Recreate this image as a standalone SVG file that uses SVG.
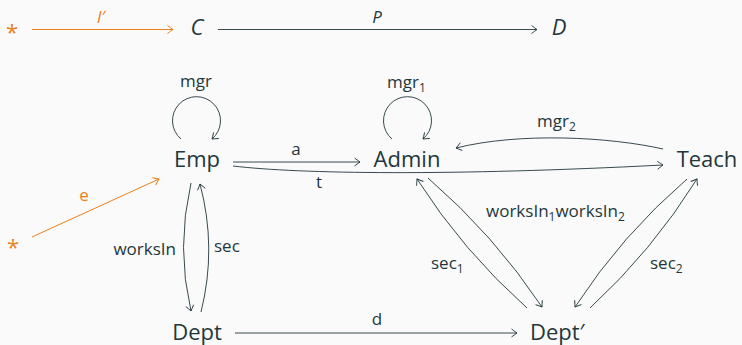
<svg xmlns="http://www.w3.org/2000/svg" width="742" height="345" viewBox="0 0 742 345">
  <style>
    text { font-family: "Open Sans", "DejaVu Sans", sans-serif; fill: #23373b; }
    .node { font-size: 22px; }
    .math { font-style: italic; }
    .lbl { font-size: 17px; }
    .sub { font-size: 12px; }
    .alert { fill: #eb811b; }
    .edge { fill: none; stroke: #23373b; stroke-width: 0.9; marker-end: url(#to); }
    .edge-alert { fill: none; stroke: #eb811b; stroke-width: 1; marker-end: url(#to-alert); }
  </style>
  <defs>
    <marker id="to" viewBox="-7 -5 8 10" refX="0" refY="0" markerWidth="8" markerHeight="10" markerUnits="userSpaceOnUse" orient="auto">
      <path d="M-5.5,-4 Q-1.5,-1 0,0 Q-1.5,1 -5.5,4" fill="none" stroke="#23373b" stroke-width="0.9"/>
    </marker>
    <marker id="to-alert" viewBox="-7 -5 8 10" refX="0" refY="0" markerWidth="8" markerHeight="10" markerUnits="userSpaceOnUse" orient="auto">
      <path d="M-5.5,-4 Q-1.5,-1 0,0 Q-1.5,1 -5.5,4" fill="none" stroke="#eb811b" stroke-width="1"/>
    </marker>
  </defs>

  <rect width="742" height="345" fill="#fafafa"/>

  <!-- top row: * -> C -> D -->
  <g id="star-top"><text class="node alert" x="12" y="40" text-anchor="middle">*</text></g>
  <g id="C"><text class="node math" x="197" y="35" text-anchor="middle">C</text></g>
  <g id="D"><text class="node math" x="559" y="35" text-anchor="middle">D</text></g>

  <!-- category nodes -->
  <g id="Emp"><text class="node" x="197" y="167" text-anchor="middle">Emp</text></g>
  <g id="Admin"><text class="node" x="407" y="167" text-anchor="middle">Admin</text></g>
  <g id="Teach"><text class="node" x="707" y="167" text-anchor="middle">Teach</text></g>
  <g id="Dept"><text class="node" x="197" y="340" text-anchor="middle">Dept</text></g>
  <g id="DeptPrime"><text class="node" x="530" y="340">Dept′</text></g>
  <g id="star-left"><text class="node alert" x="13" y="255" text-anchor="middle">*</text></g>

  <g id="connectors">
    <!-- top row -->
    <path class="edge-alert" d="M32,29.5 L173,29.5"/>
    <text class="lbl math alert" x="101" y="23" text-anchor="middle">l′</text>
    <path class="edge" d="M218,29.5 L537,29.5"/>
    <text class="lbl math" x="377" y="23" text-anchor="middle">P</text>

    <!-- loops -->
    <path class="edge" d="M181,139 A24,24 0 1 1 212,139"/>
    <text class="lbl" x="196" y="87" text-anchor="middle">mgr</text>
    <path class="edge" d="M392,139 A24,24 0 1 1 423,139"/>
    <text class="lbl" x="387" y="88">mgr<tspan class="sub" dy="4">1</tspan></text>

    <!-- Emp -> Admin, Emp -> Teach -->
    <path class="edge" d="M233,162 L360,162"/>
    <text class="lbl" x="296" y="155" text-anchor="middle">a</text>
    <path class="edge" d="M233,166 C300,174 450,176 663,165"/>
    <text class="lbl" x="319" y="188" text-anchor="middle">t</text>

    <!-- Teach -> Admin -->
    <path class="edge" d="M663,149 C610,137 520,132 456,148"/>
    <text class="lbl" x="537" y="127">mgr<tspan class="sub" dy="4">2</tspan></text>

    <!-- * -> Emp -->
    <path class="edge-alert" d="M32,237 L159,179"/>
    <text class="lbl alert" x="84" y="201" text-anchor="middle">e</text>

    <!-- Emp <-> Dept -->
    <path class="edge" d="M191,183 Q176,248 191,311"/>
    <text class="lbl" x="176" y="255" text-anchor="end">worksIn</text>
    <path class="edge" d="M201,312 Q217,248 200,184"/>
    <text class="lbl" x="214" y="252">sec</text>

    <!-- Dept -> Dept' -->
    <path class="edge" d="M235,333 L517,333"/>
    <text class="lbl" x="377" y="325" text-anchor="middle">d</text>

    <!-- Admin <-> Dept' -->
    <path class="edge" d="M428,178 Q494,235 542,307"/>
    <path class="edge" d="M527,308 Q463,251 417,179"/>
    <text class="lbl" x="486" y="217">worksIn<tspan class="sub" dy="4">1</tspan><tspan dy="-4">worksIn</tspan><tspan class="sub" dy="4">2</tspan></text>
    <text class="lbl" x="431" y="269">sec<tspan class="sub" dy="4">1</tspan></text>

    <!-- Teach <-> Dept' -->
    <path class="edge" d="M687,179 Q622,235 575,307"/>
    <path class="edge" d="M590,308 Q652,251 697,179"/>
    <text class="lbl" x="650" y="269">sec<tspan class="sub" dy="4">2</tspan></text>
  </g>
</svg>
